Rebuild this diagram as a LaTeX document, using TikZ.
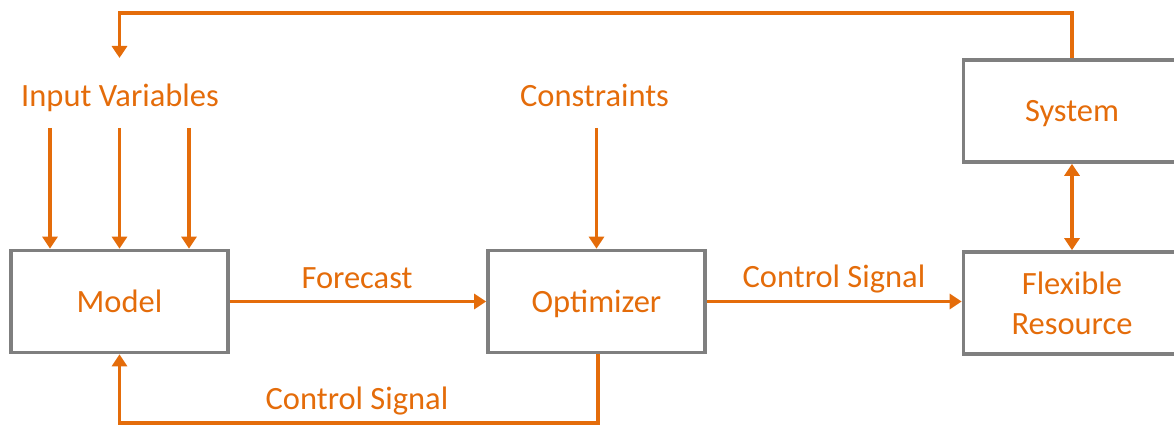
\documentclass[tikz,border=0pt]{standalone}
\usepackage{fontspec}
\setmainfont{Carlito}
\usetikzlibrary{arrows.meta}
\definecolor{accent}{RGB}{228,108,10}
\definecolor{frame}{RGB}{127,127,127}
\tikzset{
  textstyle/.style={text=accent, font=\fontsize{32.5}{40}\selectfont},
  block/.style={draw=frame, line width=3.6pt, minimum width=217pt, minimum height=102pt,
    inner sep=0pt, textstyle, align=center, text height=22pt, text depth=0pt},
  label/.style={textstyle, inner sep=0pt, anchor=base},
  flow/.style={draw=accent, line width=3.3pt, -{Triangle[length=12pt,width=15pt]}},
  both/.style={draw=accent, line width=3.3pt, {Triangle[length=12pt,width=15pt]}-{Triangle[length=12pt,width=15pt]}}
}
\begin{document}
\begin{tikzpicture}[x=1pt,y=-1pt]
\useasboundingbox (0,0) rectangle (1174,427);
% blocks
\node[block] (model) at (119.5,301.5) {Model};
\node[block] (opt) at (596.5,301.5) {Optimizer};
\node[block, text height=, text depth=] (flex) at (1072,303) {Flexible\\Resource};
\node[block] (sys) at (1072,111) {System};
% free labels
\node[label] (inputs) at (120,107) {Input Variables};
\node[label] (cons) at (594.5,107) {Constraints};
% input arrows
\coordinate (i1) at (50,128);
\coordinate (i2) at (119.5,128);
\coordinate (i3) at (189,128);
\draw[flow] (i1) -- (i1 |- model.north);
\draw[flow] (i2) -- (i2 |- model.north);
\draw[flow] (i3) -- (i3 |- model.north);
\coordinate (c1) at (596.5,128);
\draw[flow] (c1) -- (opt.north);
% forward signals
\draw[flow] (model.east) -- (opt.west);
\node[label] (fc) at (357,288.5) {Forecast};
\draw[flow] (opt.east) -- (flex.west |- opt.east);
\node[label] (cs1) at (834,288) {Control Signal};
% system coupling
\draw[both] (sys.south) -- (flex.north);
% feedback to inputs
\coordinate (top) at (0,13);
\coordinate (inarrow) at (119.5,58);
\draw[flow] (sys.north) -- (sys.north |- top) -- (inarrow |- top) -- (inarrow);
% feedback from optimizer to model
\coordinate (bot) at (0,423);
\coordinate (ob) at (598,0);
\draw[flow] (ob |- opt.south) -- (ob |- bot) -- (model.south |- bot) -- (model.south);
\node[label] (cs2) at (357,409) {Control Signal};
\end{tikzpicture}
\end{document}
